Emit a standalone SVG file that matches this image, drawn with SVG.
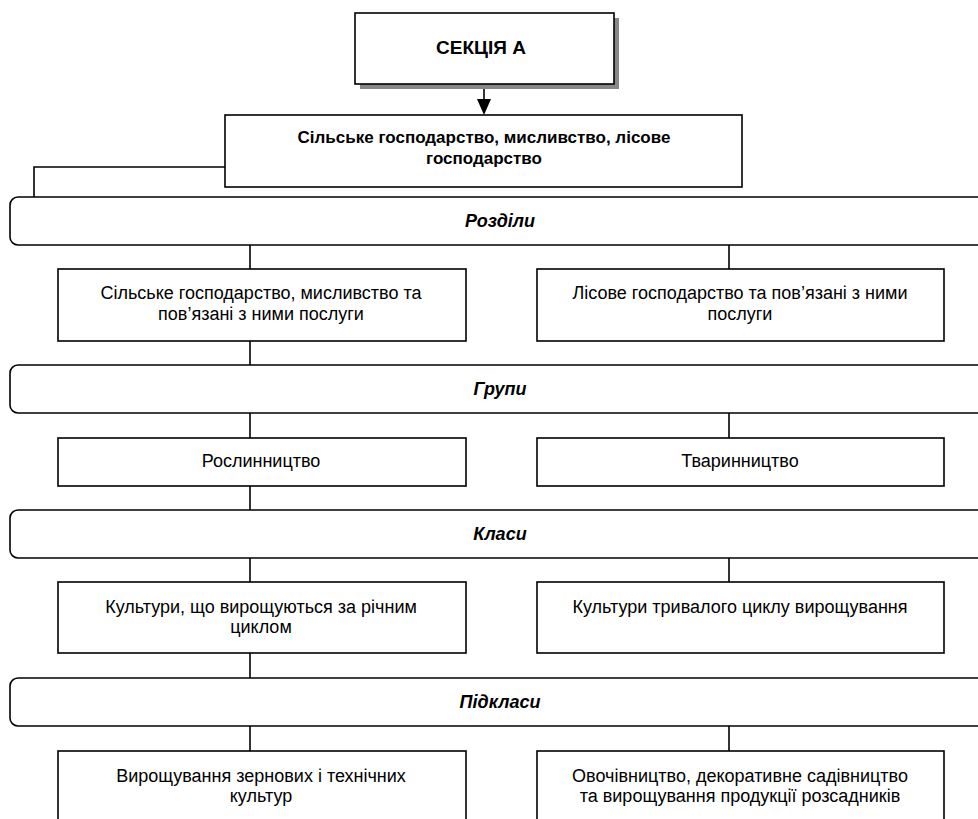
<svg xmlns="http://www.w3.org/2000/svg" width="978" height="819" viewBox="0 0 978 819">
<defs>
<style>
.box{fill:#fff;stroke:#000;stroke-width:1.6}
.ban{fill:#fff;stroke:#000;stroke-width:1.6}
.t{font-family:"Liberation Sans",Arial,sans-serif;font-size:18px;fill:#000;text-anchor:middle}
.b{font-weight:bold;font-size:17px}
.h{font-weight:bold;font-size:19px}
.bi{font-weight:bold;font-style:italic}
.c{stroke:#000;stroke-width:1.6;fill:none}
</style>
</defs>
<rect width="978" height="819" fill="#fff"/>

<g id="connectors">
<line class="c" x1="484" y1="84" x2="484" y2="99"/>
<path d="M477,99 L491,99 L484,115 Z" fill="#000"/>
<polyline class="c" points="225,167 34,167 34,197"/>
<line class="c" x1="250" y1="245" x2="250" y2="269"/>
<line class="c" x1="729" y1="245" x2="729" y2="269"/>
<line class="c" x1="250" y1="341" x2="250" y2="365"/>
<line class="c" x1="250" y1="413" x2="250" y2="438"/>
<line class="c" x1="729" y1="413" x2="729" y2="438"/>
<line class="c" x1="250" y1="486" x2="250" y2="510"/>
<line class="c" x1="250" y1="558" x2="250" y2="582"/>
<line class="c" x1="729" y1="558" x2="729" y2="582"/>
<line class="c" x1="250" y1="653" x2="250" y2="678"/>
<line class="c" x1="250" y1="726" x2="250" y2="751"/>
<line class="c" x1="729" y1="726" x2="729" y2="751"/>
</g>

<g id="section-a">
<rect x="360" y="18" width="259" height="71" fill="#888"/>
<rect class="box" x="355" y="13" width="259" height="71"/>
<text class="t h" x="481" y="54">СЕКЦІЯ А</text>
</g>

<g id="agriculture">
<rect class="box" x="225" y="115" width="517" height="72"/>
<text class="t b" x="484" y="143">Сільське господарство, мисливство, лісове</text>
<text class="t b" x="484" y="164">господарство</text>
</g>

<g id="banner-rozdily">
<rect class="ban" x="10" y="197" width="1000" height="48" rx="8"/>
<text class="t bi" x="500" y="227">Розділи</text>
</g>
<g id="div-agri">
<rect class="box" x="58" y="269" width="408" height="72"/>
<text class="t" x="261" y="299">Сільське господарство, мисливство та</text>
<text class="t" x="261" y="320">пов’язані з ними послуги</text>
</g>
<g id="div-forest">
<rect class="box" x="537" y="269" width="407" height="72"/>
<text class="t" x="740" y="299">Лісове господарство та пов’язані з ними</text>
<text class="t" x="740" y="320">послуги</text>
</g>

<g id="banner-hrupy">
<rect class="ban" x="10" y="365" width="1000" height="48" rx="8"/>
<text class="t bi" x="500" y="395">Групи</text>
</g>
<g id="grp-plant">
<rect class="box" x="58" y="438" width="408" height="48"/>
<text class="t" x="261" y="467">Рослинництво</text>
</g>
<g id="grp-animal">
<rect class="box" x="537" y="438" width="407" height="48"/>
<text class="t" x="740" y="467">Тваринництво</text>
</g>

<g id="banner-klasy">
<rect class="ban" x="10" y="510" width="1000" height="48" rx="8"/>
<text class="t bi" x="500" y="540">Класи</text>
</g>
<g id="cls-annual">
<rect class="box" x="58" y="582" width="408" height="71"/>
<text class="t" x="261" y="613">Культури, що вирощуються за річним</text>
<text class="t" x="261" y="633">циклом</text>
</g>
<g id="cls-perennial">
<rect class="box" x="537" y="582" width="407" height="71"/>
<text class="t" x="740" y="613">Культури тривалого циклу вирощування</text>
</g>

<g id="banner-pidklasy">
<rect class="ban" x="10" y="678" width="1000" height="48" rx="8"/>
<text class="t bi" x="500" y="708">Підкласи</text>
</g>
<g id="sub-grain">
<rect class="box" x="58" y="751" width="408" height="80"/>
<text class="t" x="261" y="782">Вирощування зернових і технічних</text>
<text class="t" x="261" y="802">культур</text>
</g>
<g id="sub-veg">
<rect class="box" x="537" y="751" width="407" height="80"/>
<text class="t" x="740" y="782">Овочівництво, декоративне садівництво</text>
<text class="t" x="740" y="802">та вирощування продукції розсадників</text>
</g>
</svg>
